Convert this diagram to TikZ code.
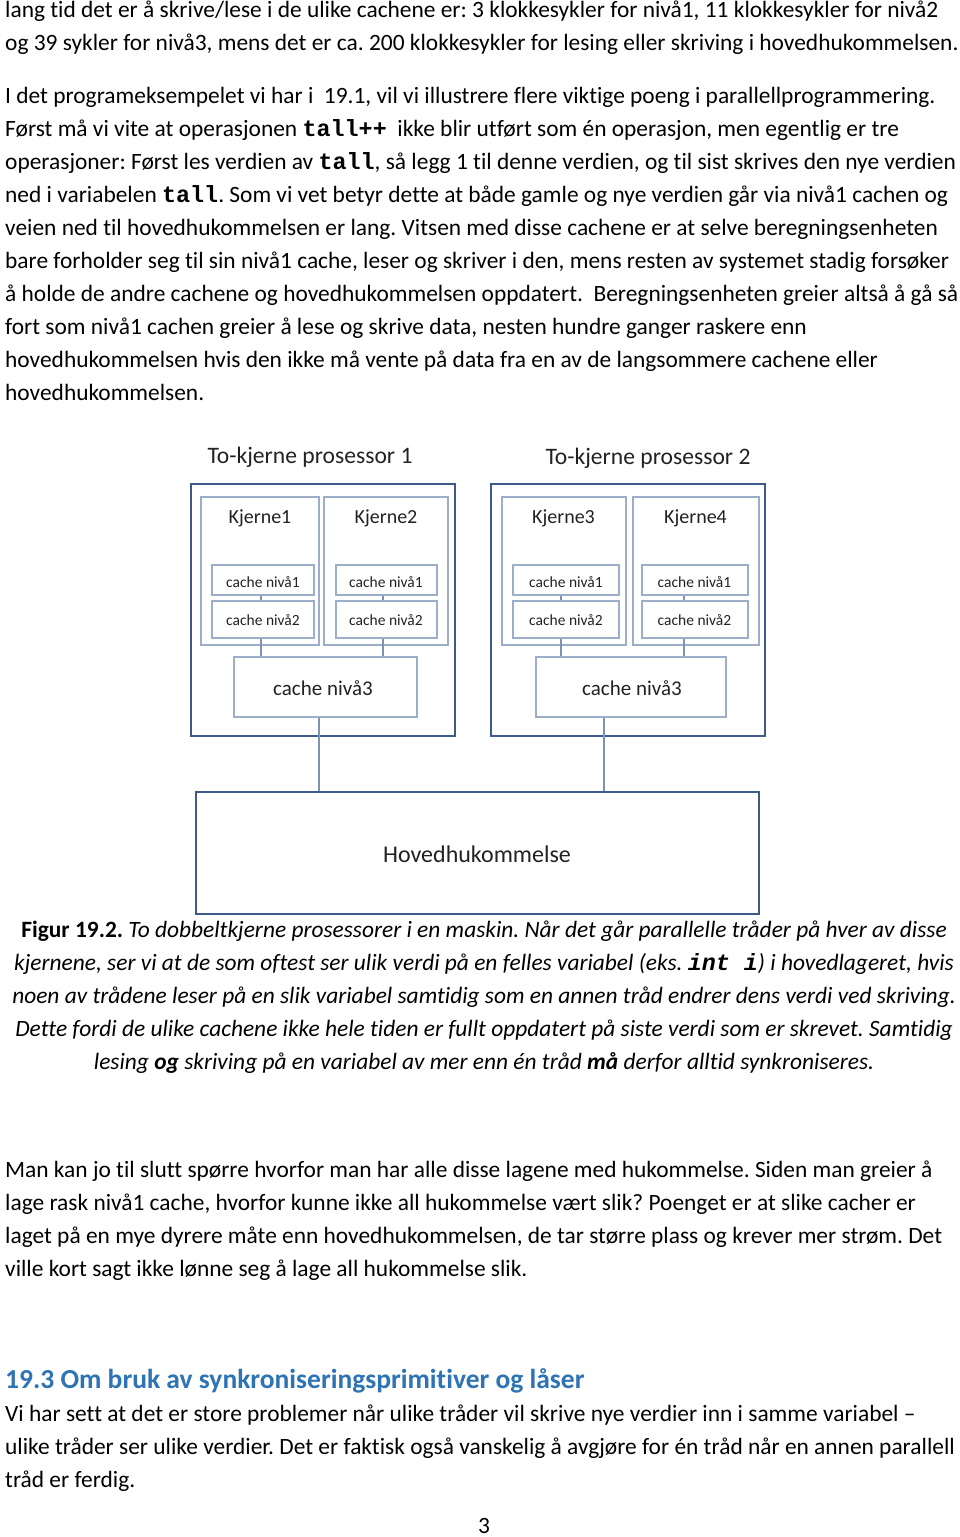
\documentclass[tikz,border=0pt]{standalone}
\usepackage{fontspec}
\setmainfont{Carlito}[Ligatures={NoCommon,NoContextual}]
\newfontfamily\cour{Liberation Mono}
\definecolor{outerc}{HTML}{3D5B8A}
\definecolor{innerc}{HTML}{9DAECB}
\definecolor{wirec}{HTML}{7D92B4}
\definecolor{headc}{HTML}{2E74B5}
\definecolor{dtext}{HTML}{222222}
\newcommand{\mono}[1]{{\cour\bfseries #1}}
\begin{document}
\frenchspacing
\begin{tikzpicture}[x=1pt,y=-1pt,
  txt/.style={anchor=base west,inner sep=0pt,font=\fontsize{23.4}{33}\selectfont},
  captxt/.style={anchor=base,inner sep=0pt,font=\fontsize{23.4}{33}\selectfont\itshape},
  headtxt/.style={anchor=base west,inner sep=0pt,text=headc,font=\fontsize{27.5}{33}\selectfont\bfseries},
  outerbox/.style={draw=outerc,line width=2.8pt,inner sep=0pt},
  innerbox/.style={draw=innerc,line width=1.2pt,fill=white,inner sep=0pt},
  wire/.style={draw=wirec,line width=1.4pt},
  dlbl/.style={anchor=base,inner sep=0pt,text=dtext},
  ttl/.style={dlbl,font=\fontsize{23.6}{28}\selectfont},
  kj/.style={dlbl,font=\fontsize{20}{24}\selectfont},
  csm/.style={dlbl,font=\fontsize{15.5}{18}\selectfont},
  cbg/.style={dlbl,font=\fontsize{21}{24}\selectfont},
]
\path[use as bounding box,fill=white] (0,0) rectangle (960,1537);

% ---------------- body text ----------------
\node[txt] (t1) at (5,17) {lang tid det er å skrive/lese i de ulike cachene er: 3 klokkesykler for nivå1, 11 klokkesykler for nivå2};
\node[txt] (t2) at (5,50) {og 39 sykler for nivå3, mens det er ca. 200 klokkesykler for lesing eller skriving i hovedhukommelsen.};
\node[txt] (t3) at (5,103) {I det programeksempelet vi har i\ \ 19.1, vil vi illustrere flere viktige poeng i parallellprogrammering.};
\node[txt] (t4) at (5,136) {Først må vi vite at operasjonen \mono{tall++}\ \ ikke blir utført som én operasjon, men egentlig er tre};
\node[txt] (t5) at (5,169) {operasjoner: Først les verdien av \mono{tall}, så legg 1 til denne verdien, og til sist skrives den nye verdien};
\node[txt] (t6) at (5,202) {ned i variabelen \mono{tall}. Som vi vet betyr dette at både gamle og nye verdien går via nivå1 cachen og};
\node[txt] (t7) at (5,235) {veien ned til hovedhukommelsen er lang. Vitsen med disse cachene er at selve beregningsenheten};
\node[txt] (t8) at (5,268) {bare forholder seg til sin nivå1 cache, leser og skriver i den, mens resten av systemet stadig forsøker};
\node[txt] (t9) at (5,301) {å holde de andre cachene og hovedhukommelsen oppdatert.\ \ Beregningsenheten greier altså å gå så};
\node[txt] (t10) at (5,334) {fort som nivå1 cachen greier å lese og skrive data, nesten hundre ganger raskere enn};
\node[txt] (t11) at (5,367) {hovedhukommelsen hvis den ikke må vente på data fra en av de langsommere cachene eller};
\node[txt] (t12) at (5,400) {hovedhukommelsen.};

% ---------------- diagram ----------------
\node[ttl] (tt1) at (310,463) {To-kjerne prosessor 1};
\node[ttl] (tt2) at (648,464) {To-kjerne prosessor 2};

\node[outerbox,minimum width=264pt,minimum height=252pt] (p1) at (323,610) {};
\node[outerbox,minimum width=274pt,minimum height=252pt] (p2) at (628,610) {};

\node[innerbox,minimum width=118pt,minimum height=148pt] (k1) at (260,571) {};
\node[innerbox,minimum width=124pt,minimum height=148pt] (k2) at (386,571) {};
\node[innerbox,minimum width=124pt,minimum height=148pt] (k3) at (564,571) {};
\node[innerbox,minimum width=126pt,minimum height=148pt] (k4) at (696,571) {};

\node[kj] (k1l) at (260,523) {Kjerne1};
\node[kj] (k2l) at (386,523) {Kjerne2};
\node[kj] (k3l) at (563.5,523) {Kjerne3};
\node[kj] (k4l) at (695.5,523) {Kjerne4};

\node[innerbox,minimum width=102pt,minimum height=30pt] (k1a) at (263,580) {};
\node[innerbox,minimum width=102pt,minimum height=37pt] (k1b) at (263,619.5) {};
\node[innerbox,minimum width=101pt,minimum height=30pt] (k2a) at (386.5,580) {};
\node[innerbox,minimum width=101pt,minimum height=37pt] (k2b) at (386.5,619.5) {};
\node[innerbox,minimum width=106pt,minimum height=30pt] (k3a) at (566,580) {};
\node[innerbox,minimum width=106pt,minimum height=37pt] (k3b) at (566,619.5) {};
\node[innerbox,minimum width=106pt,minimum height=30pt] (k4a) at (695,580) {};
\node[innerbox,minimum width=106pt,minimum height=37pt] (k4b) at (695,619.5) {};

\node[csm] (k1al) at (263,587) {cache nivå1};
\node[csm] (k1bl) at (263,625) {cache nivå2};
\node[csm] (k2al) at (386,587) {cache nivå1};
\node[csm] (k2bl) at (386,625) {cache nivå2};
\node[csm] (k3al) at (566,587) {cache nivå1};
\node[csm] (k3bl) at (566,625) {cache nivå2};
\node[csm] (k4al) at (694.5,587) {cache nivå1};
\node[csm] (k4bl) at (694.5,625) {cache nivå2};

\node[innerbox,minimum width=183pt,minimum height=60pt] (l3a) at (325.5,687) {};
\node[innerbox,minimum width=190pt,minimum height=60pt] (l3b) at (631,687) {};
\node[cbg] (l3al) at (323,695) {cache nivå3};
\node[cbg] (l3bl) at (632,695) {cache nivå3};

\node[outerbox,minimum width=563pt,minimum height=122pt] (mem) at (477.5,853) {};
\node[dlbl,font=\fontsize{24}{28}\selectfont] (meml) at (477,862) {Hovedhukommelse};

\coordinate (x1) at (261,0);
\coordinate (x2) at (383,0);
\coordinate (x3) at (561,0);
\coordinate (x4) at (684,0);
\coordinate (x5) at (319,0);
\coordinate (x6) at (604,0);
\draw[wire] (k1a.south -| x1) -- (k1b.north -| x1);
\draw[wire] (k1b.south -| x1) -- (l3a.north -| x1);
\draw[wire] (k2a.south -| x2) -- (k2b.north -| x2);
\draw[wire] (k2b.south -| x2) -- (l3a.north -| x2);
\draw[wire] (k3a.south -| x3) -- (k3b.north -| x3);
\draw[wire] (k3b.south -| x3) -- (l3b.north -| x3);
\draw[wire] (k4a.south -| x4) -- (k4b.north -| x4);
\draw[wire] (k4b.south -| x4) -- (l3b.north -| x4);
\draw[wire] (l3a.south -| x5) -- (mem.north -| x5);
\draw[wire] (l3b.south -| x6) -- (mem.north -| x6);

% ---------------- caption ----------------
\node[captxt] (c1) at (484,937) {{\upshape\bfseries Figur 19.2.} To dobbeltkjerne prosessorer i en maskin. Når det går parallelle tråder på hver av disse};
\node[captxt] (c2) at (484,970) {kjernene, ser vi at de som oftest ser ulik verdi på en felles variabel (eks. {\cour\bfseries\itshape int i}) i hovedlageret, hvis};
\node[captxt] (c3) at (484,1003) {noen av trådene leser på en slik variabel samtidig som en annen tråd endrer dens verdi ved skriving.};
\node[captxt] (c4) at (484,1036) {Dette fordi de ulike cachene ikke hele tiden er fullt oppdatert på siste verdi som er skrevet. Samtidig};
\node[captxt] (c5) at (484,1069) {lesing {\bfseries og} skriving på en variabel av mer enn én tråd {\bfseries må} derfor alltid synkroniseres.};

% ---------------- second paragraph ----------------
\node[txt] (m1) at (5,1177) {Man kan jo til slutt spørre hvorfor man har alle disse lagene med hukommelse. Siden man greier å};
\node[txt] (m2) at (5,1210) {lage rask nivå1 cache, hvorfor kunne ikke all hukommelse vært slik? Poenget er at slike cacher er};
\node[txt] (m3) at (5,1243) {laget på en mye dyrere måte enn hovedhukommelsen, de tar større plass og krever mer strøm. Det};
\node[txt] (m4) at (5,1276) {ville kort sagt ikke lønne seg å lage all hukommelse slik.};

\node[headtxt] (h1) at (5,1388) {19.3 Om bruk av synkroniseringsprimitiver og låser};

\node[txt] (v1) at (5,1421) {Vi har sett at det er store problemer når ulike tråder vil skrive nye verdier inn i samme variabel –};
\node[txt] (v2) at (5,1454) {ulike tråder ser ulike verdier. Det er faktisk også vanskelig å avgjøre for én tråd når en annen parallell};
\node[txt] (v3) at (5,1487) {tråd er ferdig.};

\node[anchor=base,inner sep=0pt,font=\fontsize{23.4}{33}\selectfont] (pg) at (484,1533) {3};
\end{tikzpicture}
\end{document}
